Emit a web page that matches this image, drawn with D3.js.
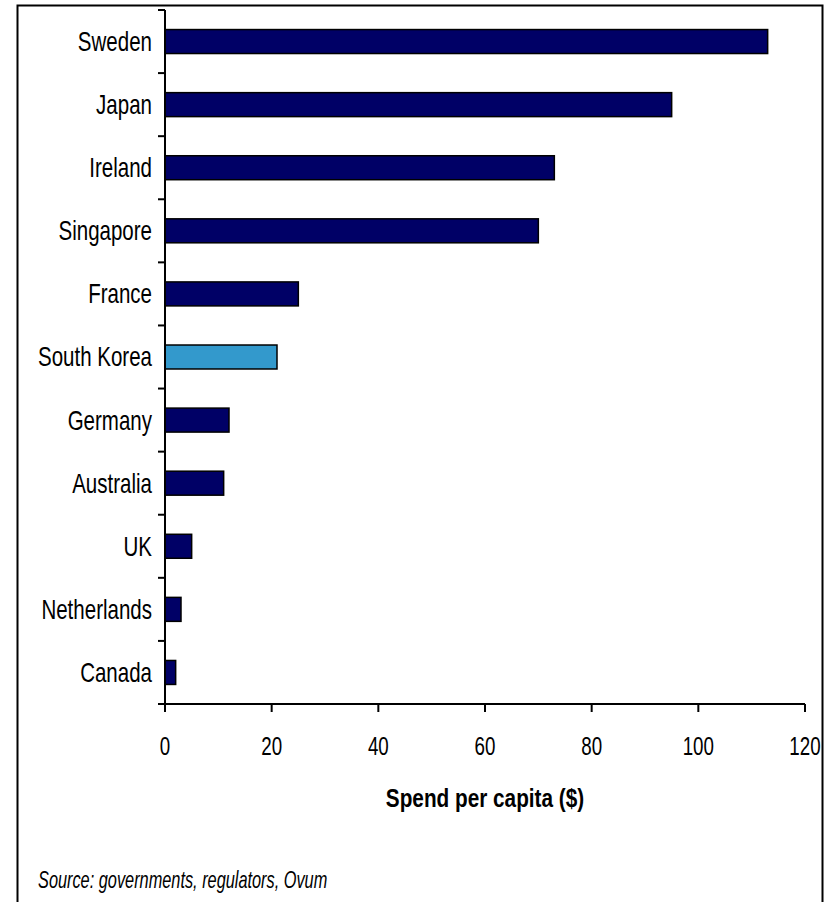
<!DOCTYPE html>
<html>
<head>
<meta charset="utf-8">
<script src="https://cdn.jsdelivr.net/npm/d3@7"></script>
<style>
  html, body { margin: 0; padding: 0; background: #fff; }
  svg { display: block; }
  text { font-family: "Liberation Sans", Arial, sans-serif; fill: #000; }
</style>
</head>
<body>
<script>
const countries = ["Sweden", "Japan", "Ireland", "Singapore", "France", "South Korea", "Germany", "Australia", "UK", "Netherlands", "Canada"];
const spend = [113, 95, 73, 70, 25, 21, 12, 11, 5, 3, 2];
const highlight = ["South Korea"];
const xTicks = [0, 20, 40, 60, 80, 100, 120];
const xTitle = "Spend per capita ($)";
const sourceNote = "Source: governments, regulators, Ovum";

const W = 832, H = 902;
const svg = d3.select("body").append("svg").attr("width", W).attr("height", H);

// outer frame (bottom edge off-canvas)
svg.append("rect").attr("x", 17.5).attr("y", 5.5).attr("width", 805).attr("height", 910)
  .attr("fill", "none").attr("stroke", "#000").attr("stroke-width", 2);

const x = d3.scaleLinear().domain([0, 120]).range([165, 805]);
const y = d3.scaleBand().domain(countries).range([10, 704]).paddingInner(0.62).paddingOuter(0.31);

const data = countries.map((c, i) => ({ c, v: spend[i] }));

// bars
svg.append("g").selectAll("rect").data(data).enter().append("rect")
  .attr("x", x(0))
  .attr("y", d => y(d.c))
  .attr("width", d => x(d.v) - x(0))
  .attr("height", y.bandwidth())
  .attr("fill", d => highlight.includes(d.c) ? "#3399cc" : "#000066")
  .attr("stroke", "#000").attr("stroke-width", 1.5);

// y axis
const yAxis = svg.append("g");
yAxis.append("line").attr("x1", x(0)).attr("x2", x(0)).attr("y1", y.range()[0]).attr("y2", y.range()[1])
  .attr("stroke", "#000").attr("stroke-width", 2);
const bounds = d3.range(countries.length + 1).map(i => y.range()[0] + i * y.step());
yAxis.selectAll("line.tk").data(bounds).enter().append("line").attr("class", "tk")
  .attr("x1", x(0) - 7).attr("x2", x(0)).attr("y1", d => d).attr("y2", d => d)
  .attr("stroke", "#000").attr("stroke-width", 2);
yAxis.selectAll("g.lab").data(countries).enter().append("g").attr("class", "lab")
  .attr("transform", d => `translate(${x(0) - 13},${y(d) + y.bandwidth() / 2}) scale(0.76,1)`)
  .append("text").attr("text-anchor", "end").attr("dy", "0.35em")
  .style("font-size", "27px").text(d => d);

// x axis
const xAxis = svg.append("g");
xAxis.append("line").attr("x1", x(0)).attr("x2", x(120)).attr("y1", 704).attr("y2", 704)
  .attr("stroke", "#000").attr("stroke-width", 2);
xAxis.selectAll("line.tk").data(xTicks).enter().append("line").attr("class", "tk")
  .attr("x1", d => x(d)).attr("x2", d => x(d)).attr("y1", 704).attr("y2", 712)
  .attr("stroke", "#000").attr("stroke-width", 2);
xAxis.selectAll("g.lab").data(xTicks).enter().append("g").attr("class", "lab")
  .attr("transform", d => `translate(${x(d)},755) scale(0.75,1)`)
  .append("text").attr("text-anchor", "middle")
  .style("font-size", "25px").text(d => d);

// axis title
svg.append("g").attr("transform", `translate(${(x(0) + x(120)) / 2},807) scale(0.83,1)`)
  .append("text").attr("text-anchor", "middle")
  .style("font-size", "25px").style("font-weight", "bold").text(xTitle);

// source
svg.append("g").attr("transform", `translate(38,888) scale(0.68,1)`)
  .append("text").attr("text-anchor", "start")
  .style("font-size", "24px").style("font-style", "italic").text(sourceNote);
</script>
</body>
</html>
